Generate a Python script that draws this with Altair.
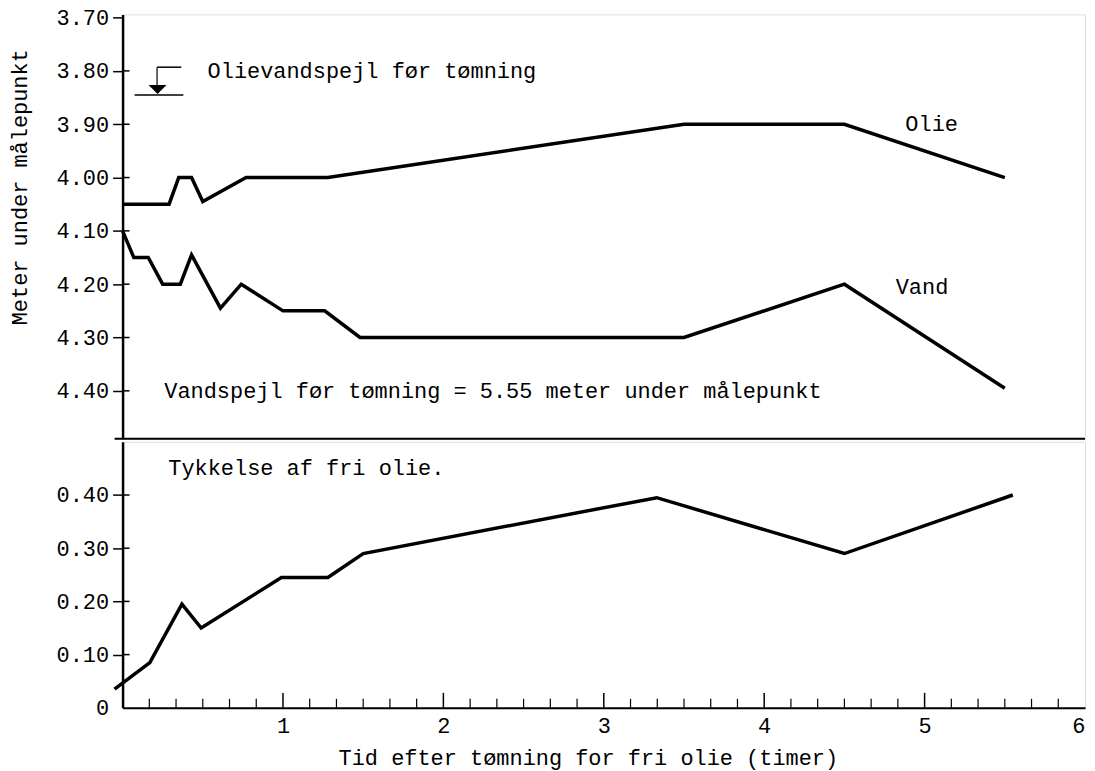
import altair as alt
import pandas as pd

# ---------------- data ----------------
olie_t = [0.0, 0.29, 0.35, 0.43, 0.50, 0.77, 1.28, 3.50, 4.50, 5.50]
olie_d = [4.05, 4.05, 4.00, 4.00, 4.045, 4.00, 4.00, 3.90, 3.90, 4.00]

vand_t = [0.0, 0.07, 0.16, 0.25, 0.36, 0.43, 0.61, 0.74, 1.00, 1.26, 1.48, 3.50, 4.50, 5.50]
vand_d = [4.10, 4.15, 4.15, 4.20, 4.20, 4.145, 4.245, 4.20, 4.25, 4.25, 4.30, 4.30, 4.20, 4.395]

tyk_t = [-0.05, 0.17, 0.37, 0.49, 0.99, 1.28, 1.50, 3.33, 4.50, 5.55]
tyk_v = [0.035, 0.085, 0.195, 0.15, 0.245, 0.245, 0.29, 0.395, 0.29, 0.40]

upper_ticks = [3.70, 3.80, 3.90, 4.00, 4.10, 4.20, 4.30, 4.40]
upper_inner_ticks = [3.80, 3.90, 4.00, 4.10, 4.20, 4.30, 4.40]
lower_ticks = [0.0, 0.10, 0.20, 0.30, 0.40]
lower_inner_ticks = [0.10, 0.20, 0.30, 0.40]
x_labels = [1, 2, 3, 4, 5, 6]
major_ticks = [1, 2, 3, 4, 5]
minor_ticks = [k / 6 for k in range(1, 36) if k % 6 != 0]

upper_text = ["Olievandspejl før tømning", "Olie", "Vand",
              "Vandspejl før tømning = 5.55 meter under målepunkt"]
upper_text_t = [0.53, 4.88, 4.82, 0.26]
upper_text_d = [3.80, 3.90, 4.205, 4.40]

lower_text = ["Tykkelse af fri olie."]
lower_text_t = [0.285]
lower_text_v = [0.45]

# level marker symbol (in data units)
ground_t, ground_t2, ground_d = 0.075, 0.379, 3.845
stem_t, stem_d_top, stem_d_bot = 0.215, 3.793, 3.835
top_t2 = 0.366
tri_t, tri_d = 0.218, 3.835

FONT = "Liberation Mono"
FS = 22
W = 966
H_UP = 426
H_LO = 267

x_scale = alt.Scale(domain=[0, 6], nice=False, zero=False)

# ---------------- upper panel ----------------
up_df = pd.DataFrame({
    "t": olie_t + vand_t,
    "d": olie_d + vand_d,
    "serie": ["Olie"] * len(olie_t) + ["Vand"] * len(vand_t),
})
y_up = alt.Scale(domain=[3.694, 4.49], reverse=True, nice=False, zero=False)

up_lines = alt.Chart(up_df).mark_line(color="black", strokeWidth=3.5, strokeJoin="miter").encode(
    x=alt.X("t:Q", scale=x_scale, axis=None),
    y=alt.Y("d:Q", scale=y_up, axis=alt.Axis(
        values=upper_ticks, format=".2f", grid=False,
        tickSize=10, tickColor="black", tickWidth=1.5,
        domainColor="black", domainWidth=2.5,
        labelFont=FONT, labelFontSize=FS, labelColor="black", labelPadding=4,
        title="Meter under målepunkt", titleFont=FONT, titleFontSize=FS,
        titleFontWeight="normal", titleColor="black",
        titleAngle=270, titleX=-103, titleY=173,
        titleAlign="center", titleBaseline="middle",
    )),
    detail="serie:N",
)

up_inner = alt.Chart(pd.DataFrame({"d": upper_inner_ticks})).mark_rule(
    color="black", strokeWidth=1.5
).encode(x=alt.value(0), x2=alt.value(7), y=alt.Y("d:Q", scale=y_up))

up_txt_df = pd.DataFrame({"t": upper_text_t, "d": upper_text_d, "txt": upper_text})
up_txt = alt.Chart(up_txt_df).mark_text(
    align="left", baseline="middle", font=FONT, fontSize=FS, color="black"
).encode(x=alt.X("t:Q", scale=x_scale), y=alt.Y("d:Q", scale=y_up), text="txt:N")

ground = alt.Chart(pd.DataFrame({"t": [ground_t], "t2": [ground_t2], "d": [ground_d]})).mark_rule(
    color="black", strokeWidth=1.5
).encode(x=alt.X("t:Q", scale=x_scale), x2="t2:Q", y=alt.Y("d:Q", scale=y_up))

stem = alt.Chart(pd.DataFrame({"t": [stem_t], "d": [stem_d_top], "d2": [stem_d_bot]})).mark_rule(
    color="black", strokeWidth=1.2
).encode(x=alt.X("t:Q", scale=x_scale), y=alt.Y("d:Q", scale=y_up), y2="d2:Q")

top_line = alt.Chart(pd.DataFrame({"t": [stem_t], "t2": [top_t2], "d": [stem_d_top]})).mark_rule(
    color="black", strokeWidth=1.5
).encode(x=alt.X("t:Q", scale=x_scale), x2="t2:Q", y=alt.Y("d:Q", scale=y_up))

tri = alt.Chart(pd.DataFrame({"t": [tri_t], "d": [tri_d]})).mark_point(
    shape="M -1 -0.5 L 1 -0.5 L 0 0.5 Z", filled=True, color="black", size=324, opacity=1
).encode(x=alt.X("t:Q", scale=x_scale), y=alt.Y("d:Q", scale=y_up))

divider = alt.Chart(pd.DataFrame({"k": [0]})).mark_rule(color="black", strokeWidth=2).encode(
    x=alt.value(-8), x2=alt.value(W), y=alt.value(H_UP)
)

upper = alt.layer(up_lines, up_inner, up_txt, ground, stem, top_line, tri, divider).properties(
    width=W, height=H_UP
)

# ---------------- lower panel ----------------
lo_df = pd.DataFrame({"t": tyk_t, "v": tyk_v})
y_lo = alt.Scale(domain=[0, 0.5], nice=False, zero=True)

lo_line = alt.Chart(lo_df).mark_line(color="black", strokeWidth=3.5, strokeJoin="miter").encode(
    x=alt.X("t:Q", scale=x_scale, axis=alt.Axis(
        values=x_labels, format="d", grid=False, ticks=False,
        domainColor="black", domainWidth=2,
        labelFont=FONT, labelFontSize=FS, labelColor="black", labelPadding=8,
        title="Tid efter tømning for fri olie (timer)", titleFont=FONT, titleFontSize=FS,
        titleFontWeight="normal", titleColor="black",
        titleX=467, titleY=50, titleAlign="center", titleBaseline="middle",
    )),
    y=alt.Y("v:Q", scale=y_lo, axis=alt.Axis(
        values=lower_ticks, grid=False,
        labelExpr="datum.value == 0 ? '0' : format(datum.value, '.2f')",
        tickSize=10, tickColor="black", tickWidth=1.5,
        tickOpacity={"condition": {"test": "datum.value == 0", "value": 0}, "value": 1},
        domainColor="black", domainWidth=2.5,
        labelFont=FONT, labelFontSize=FS, labelColor="black", labelPadding=4,
        title=None,
    )),
)

lo_inner = alt.Chart(pd.DataFrame({"v": lower_inner_ticks})).mark_rule(
    color="black", strokeWidth=1.5
).encode(x=alt.value(0), x2=alt.value(7), y=alt.Y("v:Q", scale=y_lo))

lo_txt = alt.Chart(pd.DataFrame({"t": lower_text_t, "v": lower_text_v, "txt": lower_text})).mark_text(
    align="left", baseline="middle", font=FONT, fontSize=FS, color="black"
).encode(x=alt.X("t:Q", scale=x_scale), y=alt.Y("v:Q", scale=y_lo), text="txt:N")

maj = alt.Chart(pd.DataFrame({"t": major_ticks})).mark_rule(color="black", strokeWidth=1.5).encode(
    x=alt.X("t:Q", scale=x_scale), y=alt.value(H_LO - 15), y2=alt.value(H_LO)
)
mnr = alt.Chart(pd.DataFrame({"t": minor_ticks})).mark_rule(color="black", strokeWidth=1.2).encode(
    x=alt.X("t:Q", scale=x_scale), y=alt.value(H_LO - 9), y2=alt.value(H_LO)
)

lower = alt.layer(lo_line, lo_inner, lo_txt, maj, mnr).properties(width=W, height=H_LO)

chart = alt.vconcat(upper, lower, spacing=0).properties(
    padding={"left": 0, "top": -4, "right": 0, "bottom": 0}
).configure_view(
    stroke="black", strokeWidth=1.8
).configure(background="white")

chart.save("out.html", embed_options={"renderer": "svg", "actions": False})
